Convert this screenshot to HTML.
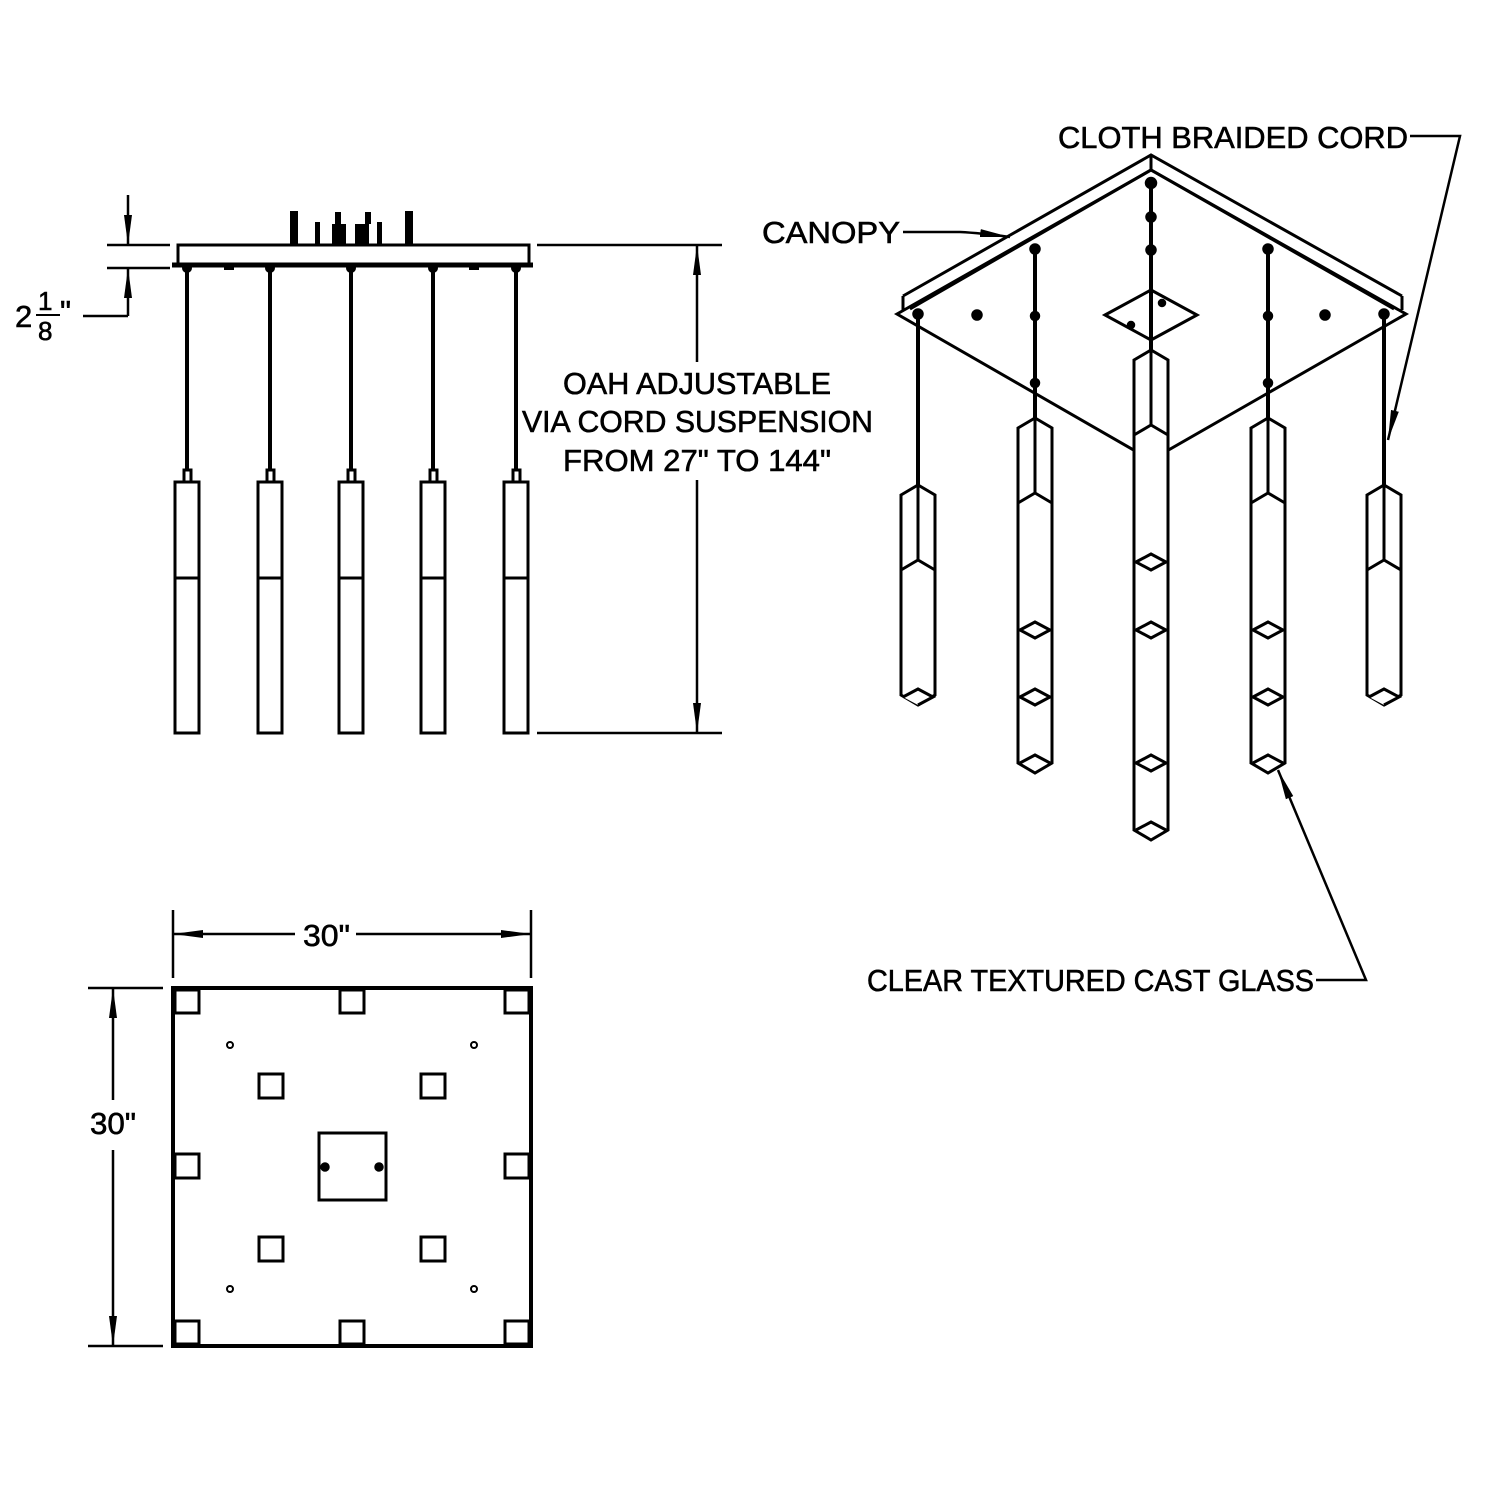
<!DOCTYPE html>
<html><head><meta charset="utf-8"><style>
html,body{margin:0;padding:0;background:#fff}
svg{display:block}
text{font-family:"Liberation Sans",sans-serif;fill:#000;stroke:#000;stroke-width:0.6}
</style></head><body>
<svg width="1500" height="1500" viewBox="0 0 1500 1500" xmlns="http://www.w3.org/2000/svg">
<defs>
<marker id="a2" viewBox="0 0 30 10" markerWidth="30" markerHeight="10" refX="30" refY="5" orient="auto" markerUnits="userSpaceOnUse">
<path d="M0,1 L30,5 L0,9 Z"/>
</marker>
</defs>
<g stroke="#000" fill="none" stroke-width="2.5">
<!-- ===== Elevation view ===== -->
<rect x="178" y="245" width="351" height="20" stroke-width="3"/>
<line x1="172" y1="265" x2="533" y2="265" stroke-width="5"/>
<g fill="#000" stroke-width="2">
<rect x="291" y="212" width="6" height="33"/><rect x="316" y="223" width="3" height="22"/>
<rect x="333" y="225" width="12" height="20"/><rect x="336" y="213" width="4" height="10"/>
<rect x="356" y="225" width="12" height="20"/><rect x="366" y="213" width="4" height="10"/>
<rect x="378" y="223" width="3" height="22"/><rect x="406" y="212" width="6" height="33"/>
<circle cx="187" cy="268" r="4"/><circle cx="270" cy="268" r="4"/><circle cx="351" cy="268" r="4"/><circle cx="433" cy="268" r="4"/><circle cx="516" cy="268" r="4"/>
<rect x="225" y="265" width="8" height="4"/><rect x="470" y="265" width="8" height="4"/>
</g>
<g stroke-width="4">
<line x1="187" y1="268" x2="187" y2="470"/><line x1="270" y1="268" x2="270" y2="470"/><line x1="351" y1="268" x2="351" y2="470"/><line x1="433" y1="268" x2="433" y2="470"/><line x1="516" y1="268" x2="516" y2="470"/>
</g>
<g stroke-width="3">
<rect x="184" y="470" width="7" height="12"/><rect x="267" y="470" width="7" height="12"/><rect x="348" y="470" width="7" height="12"/><rect x="430" y="470" width="7" height="12"/><rect x="513" y="470" width="7" height="12"/>
<rect x="175" y="482" width="24" height="251"/><rect x="258" y="482" width="24" height="251"/><rect x="339" y="482" width="24" height="251"/><rect x="421" y="482" width="24" height="251"/><rect x="504" y="482" width="24" height="251"/>
<line x1="175" y1="578" x2="199" y2="578"/><line x1="258" y1="578" x2="282" y2="578"/><line x1="339" y1="578" x2="363" y2="578"/><line x1="421" y1="578" x2="445" y2="578"/><line x1="504" y1="578" x2="528" y2="578"/>
</g>
<line x1="107" y1="245" x2="170" y2="245"/><line x1="107" y1="268" x2="170" y2="268"/>
<line x1="128" y1="195" x2="128" y2="245" marker-end="url(#a2)"/>
<line x1="128" y1="316" x2="128" y2="268" marker-end="url(#a2)"/>
<line x1="83" y1="316" x2="128" y2="316"/>
<line x1="537" y1="245" x2="722" y2="245"/><line x1="537" y1="733" x2="722" y2="733"/>
<line x1="697" y1="362" x2="697" y2="245" marker-end="url(#a2)"/>
<line x1="697" y1="480" x2="697" y2="733" marker-end="url(#a2)"/>
<!-- ===== Plan view ===== -->
<rect x="173" y="988" width="358" height="358" stroke-width="4"/>
<g stroke-width="3">
<rect x="175" y="990" width="24" height="23"/><rect x="340" y="990" width="24" height="23"/><rect x="505" y="990" width="24" height="23"/>
<rect x="175" y="1154" width="24" height="24"/><rect x="505" y="1154" width="24" height="24"/>
<rect x="175" y="1321" width="24" height="23"/><rect x="340" y="1321" width="24" height="23"/><rect x="505" y="1321" width="24" height="23"/>
<rect x="259" y="1074" width="24" height="24"/><rect x="421" y="1074" width="24" height="24"/>
<rect x="259" y="1237" width="24" height="24"/><rect x="421" y="1237" width="24" height="24"/>
<rect x="319" y="1133" width="67" height="67"/>
</g>
<g stroke-width="2"><circle cx="230" cy="1045" r="3"/><circle cx="474" cy="1045" r="3"/><circle cx="230" cy="1289" r="3"/><circle cx="474" cy="1289" r="3"/></g>
<circle cx="325" cy="1167" r="3.5" fill="#000"/><circle cx="379" cy="1167" r="3.5" fill="#000"/>
<line x1="173" y1="910" x2="173" y2="978"/><line x1="531" y1="910" x2="531" y2="978"/>
<line x1="295" y1="934" x2="173" y2="934" marker-end="url(#a2)"/>
<line x1="356" y1="934" x2="531" y2="934" marker-end="url(#a2)"/>
<line x1="88" y1="988" x2="163" y2="988"/><line x1="88" y1="1346" x2="163" y2="1346"/>
<line x1="113" y1="1100" x2="113" y2="988" marker-end="url(#a2)"/>
<line x1="113" y1="1150" x2="113" y2="1346" marker-end="url(#a2)"/>
<!-- ===== Iso view ===== -->
<g stroke-width="3">
<path d="M903,296 L1151,155 L1402,296"/>
<path d="M903,296 L903,310"/><path d="M1402,296 L1402,310"/>
<path d="M1151,155 L1151,170"/>
<path d="M910,309 L1151,170 L1394,309"/>
<path d="M897,314 L1151,170 L1406,314 L1151,460 Z"/>
<path d="M1105,315 L1151,290 L1197,315 L1151,340 Z"/>
</g>
<g fill="#000">
<circle cx="977" cy="315" r="4.5"/><circle cx="1325" cy="315" r="4.5"/>
<circle cx="1162" cy="303" r="3"/><circle cx="1131" cy="325" r="3"/>
<circle cx="918" cy="314" r="4.5"/><circle cx="1384" cy="314" r="4.5"/>
<circle cx="1035" cy="249" r="4.5"/><circle cx="1268" cy="249" r="4.5"/>
<circle cx="1035" cy="316" r="4"/><circle cx="1268" cy="316" r="4"/>
<circle cx="1035" cy="383" r="4"/><circle cx="1268" cy="383" r="4"/>
<circle cx="1151" cy="183" r="5"/><circle cx="1151" cy="217" r="4.5"/><circle cx="1151" cy="250" r="4.5"/>
</g>
<g stroke-width="4">
<line x1="918" y1="314" x2="918" y2="485"/><line x1="1384" y1="314" x2="1384" y2="485"/>
<line x1="1035" y1="249" x2="1035" y2="418"/><line x1="1268" y1="249" x2="1268" y2="418"/>
<line x1="1151" y1="183" x2="1151" y2="350"/>
</g>
<g stroke-width="3" fill="#fff">
<path d="M901,495 L918,485 L935,495 L935,695 L918,705 L901,695 Z"/>
<path d="M918,485 L918,560 M901,570 L918,560 L935,570 M903,697 L918,689 L933,697 L918,705"/>
<path d="M1367,495 L1384,485 L1401,495 L1401,695 L1384,705 L1367,695 Z"/>
<path d="M1384,485 L1384,560 M1367,570 L1384,560 L1401,570 M1369,697 L1384,689 L1399,697 L1384,705"/>
<path d="M1018,428 L1035,418 L1052,428 L1052,763 L1035,773 L1018,763 Z"/>
<path d="M1035,418 L1035,493 M1018,503 L1035,493 L1052,503 M1020,630 L1035,622 L1050,630 L1035,638 Z M1020,697 L1035,689 L1050,697 L1035,705 Z M1020,763 L1035,755 L1050,763"/>
<path d="M1251,428 L1268,418 L1285,428 L1285,763 L1268,773 L1251,763 Z"/>
<path d="M1268,418 L1268,493 M1251,503 L1268,493 L1285,503 M1253,630 L1268,622 L1283,630 L1268,638 Z M1253,697 L1268,689 L1283,697 L1268,705 Z M1253,763 L1268,755 L1283,763"/>
<path d="M1134,360 L1151,350 L1168,360 L1168,830 L1151,840 L1134,830 Z"/>
<path d="M1151,350 L1151,425 M1134,435 L1151,425 L1168,435 M1136,562 L1151,554 L1166,562 L1151,570 Z M1136,630 L1151,622 L1166,630 L1151,638 Z M1136,763 L1151,755 L1166,763 L1151,771 Z M1136,830 L1151,822 L1166,830"/>
</g>
<path d="M903,232 L960,232 Q980,233 1010,237" stroke-width="2.5" marker-end="url(#a2)"/>
<path d="M1410,136 L1460,136 L1388,440" stroke-width="2.5" marker-end="url(#a2)"/>
<path d="M1316,980 L1366,980 L1278,770" stroke-width="2.5" marker-end="url(#a2)"/>
</g>
<g font-size="31">
<text x="563" y="394" textLength="268" lengthAdjust="spacingAndGlyphs">OAH ADJUSTABLE</text>
<text x="522" y="432" textLength="351" lengthAdjust="spacingAndGlyphs">VIA CORD SUSPENSION</text>
<text x="563" y="471" textLength="268" lengthAdjust="spacingAndGlyphs">FROM 27" TO 144"</text>
<text x="762" y="243" textLength="138" lengthAdjust="spacingAndGlyphs">CANOPY</text>
<text x="1058" y="148" textLength="350" lengthAdjust="spacingAndGlyphs">CLOTH BRAIDED CORD</text>
<text x="867" y="991" textLength="447" lengthAdjust="spacingAndGlyphs">CLEAR TEXTURED CAST GLASS</text>
<text x="303" y="946" textLength="47" lengthAdjust="spacingAndGlyphs">30"</text>
<text x="90" y="1134" textLength="46" lengthAdjust="spacingAndGlyphs">30"</text>
<text x="15" y="327">2</text>
<text x="38" y="310" font-size="26">1</text>
<text x="38" y="340" font-size="26">8</text>
<text x="60" y="322">"</text>
</g>
<line x1="36" y1="315" x2="60" y2="315" stroke="#000" stroke-width="2"/>
</svg>
</body></html>
